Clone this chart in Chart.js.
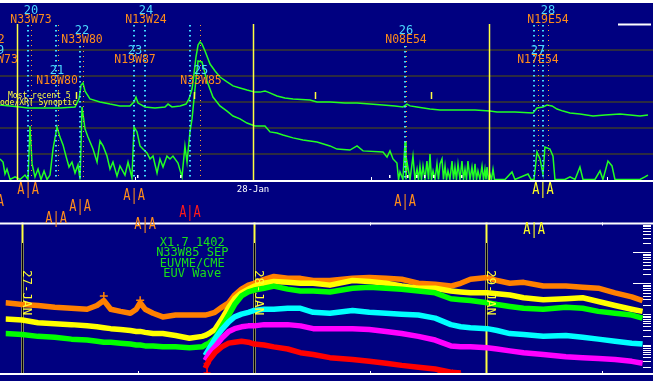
<!DOCTYPE html>
<html>
<head>
<meta charset="utf-8">
<script src="https://cdn.jsdelivr.net/npm/chart.js@4.4.1/dist/chart.umd.min.js"></script>
<style>
  html, body { margin: 0; padding: 0; background: #000080; overflow: hidden; }
  #wrap { position: relative; width: 653px; height: 381px; }
  #protonChart { position: absolute; left: 0; top: 217px; }
  #xrayChart { position: absolute; left: 0; top: 0; z-index: 2; }
</style>
</head>
<body>
<div id="wrap">
  <canvas id="protonChart" width="653" height="164"></canvas>
  <canvas id="xrayChart" width="653" height="240"></canvas>
</div>
<script>
// time axis: hours since 27-Jan 00:00
const HOUR_MIN = -1.73;
const HOUR_MAX = 64.68;
const dayHours = [0, 24, 48];
const dayLabels = ['27-JAN', '28-JAN', '29-JAN'];
const noonHours = [12, 36, 60];

// GOES X-ray flux, [hour, log10(W/m2)]
const xrayLong = [
  [-1.73, -6.12], [-0.71, -6.15], [0.31, -6.19], [1.12, -6.23], [2.34, -6.23], [4.37, -6.23], [5.90, -6.19], [6.31, -5.88], [6.51, -5.35], [6.71, -5.27],
  [6.92, -5.58], [7.42, -5.88], [8.44, -6.00], [9.46, -6.08], [10.47, -6.15], [11.49, -6.15], [11.90, -6.00], [12.10, -5.81], [12.31, -6.04], [13.02, -6.19],
  [14.03, -6.23], [15.05, -6.19], [15.36, -6.08], [15.76, -6.19], [16.58, -6.15], [17.19, -6.08], [17.49, -5.88], [17.80, -5.50], [18.00, -4.92], [18.20, -4.27],
  [18.41, -3.81], [18.61, -3.69], [18.81, -3.77], [19.12, -4.04], [19.63, -4.54], [20.14, -4.81], [20.64, -5.04], [21.36, -5.23], [21.97, -5.38], [22.68, -5.46],
  [23.39, -5.54], [24.20, -5.62], [24.71, -5.62], [25.22, -5.58], [25.53, -5.62], [26.44, -5.77], [27.25, -5.85], [28.07, -5.88], [29.80, -5.92], [30.51, -6.00],
  [31.83, -6.00], [33.36, -6.04], [34.58, -6.04], [35.90, -6.08], [37.22, -6.12], [38.44, -6.15], [39.25, -6.19], [39.66, -6.08], [39.97, -6.15], [40.68, -6.19],
  [42.00, -6.27], [43.02, -6.31], [45.05, -6.31], [46.58, -6.31], [48.10, -6.35], [48.81, -6.38], [50.64, -6.38], [52.47, -6.42], [52.88, -6.23], [53.49, -6.19],
  [53.90, -6.12], [54.41, -6.15], [54.92, -6.27], [55.53, -6.35], [56.24, -6.42], [57.25, -6.46], [58.58, -6.54], [59.80, -6.50], [61.32, -6.46], [62.34, -6.50],
  [63.36, -6.54], [64.17, -6.50]
];

const xrayShort = [
  [-1.73, -8.19], [-1.42, -8.31], [-1.22, -8.77], [-1.02, -8.58], [-0.71, -8.98], [-0.20, -8.88], [0.31, -8.98], [0.81, -8.81], [1.12, -8.98], [1.32, -6.92],
  [1.53, -8.38], [1.83, -8.88], [2.14, -8.58], [2.44, -8.98], [2.75, -8.65], [3.05, -8.98], [3.36, -8.81], [3.66, -7.81], [4.07, -6.96], [4.37, -7.35],
  [4.68, -7.65], [4.98, -8.08], [5.29, -8.50], [5.59, -8.31], [5.90, -8.73], [6.20, -8.42], [6.41, -8.98], [6.61, -6.19], [6.92, -7.04], [7.22, -7.35],
  [7.73, -7.81], [8.14, -8.31], [8.44, -7.50], [8.75, -7.69], [9.15, -8.08], [9.46, -8.58], [9.76, -8.31], [10.17, -8.85], [10.47, -8.46], [10.98, -8.81],
  [11.29, -8.31], [11.69, -8.92], [11.90, -6.96], [12.20, -7.15], [12.51, -7.69], [12.81, -7.81], [13.22, -7.96], [13.53, -8.19], [13.83, -8.08], [14.24, -8.73],
  [14.54, -8.19], [14.85, -8.50], [15.25, -8.08], [15.56, -8.19], [15.86, -8.08], [16.37, -8.35], [16.78, -8.88], [17.08, -7.69], [17.29, -8.31], [17.59, -7.15],
  [17.80, -6.65], [18.10, -5.50], [18.41, -4.42], [18.81, -4.46], [19.32, -5.19], [19.93, -5.81], [20.64, -6.15], [21.36, -6.35], [21.97, -6.54], [22.68, -6.65],
  [23.39, -6.81], [24.20, -6.92], [25.22, -6.92], [25.73, -7.15], [26.44, -7.19], [27.05, -7.27], [28.07, -7.38], [29.08, -7.46], [30.51, -7.54], [31.83, -7.69],
  [32.54, -7.81], [33.86, -7.85], [34.58, -7.69], [35.19, -7.88], [37.22, -7.92], [37.63, -8.12], [37.93, -7.88], [38.24, -8.19], [38.64, -8.35], [38.80, -8.98],
  [38.95, -8.69], [39.25, -8.98], [39.46, -7.54], [39.56, -8.98], [39.66, -8.31], [39.97, -8.98], [40.27, -8.08], [40.47, -8.98], [40.68, -8.58], [40.83, -8.98],
  [40.98, -8.46], [41.13, -8.98], [41.29, -8.46], [41.49, -8.98], [41.69, -8.27], [41.85, -8.98], [42.00, -8.00], [42.15, -8.98], [42.31, -8.65], [42.51, -8.98],
  [42.71, -8.38], [42.86, -8.98], [43.02, -8.38], [43.22, -8.19], [43.37, -8.98], [43.53, -8.46], [43.68, -8.98], [43.83, -8.65], [44.03, -8.98], [44.24, -8.27],
  [44.39, -8.98], [44.54, -8.50], [44.69, -8.98], [44.85, -8.38], [45.05, -8.98], [45.25, -8.27], [45.41, -8.98], [45.56, -8.58], [45.71, -8.98], [45.86, -8.27],
  [46.07, -8.98], [46.27, -8.50], [46.42, -8.98], [46.58, -8.38], [46.73, -8.98], [46.88, -8.65], [47.08, -8.98], [47.29, -8.46], [47.44, -8.98], [47.59, -8.58],
  [47.70, -8.98], [47.80, -8.50], [47.95, -8.98], [48.10, -8.77], [48.25, -8.98], [48.41, -8.58], [48.56, -8.98], [49.63, -8.98], [50.34, -8.69], [50.64, -8.98],
  [51.97, -8.77], [52.27, -8.98], [52.58, -8.98], [52.88, -7.92], [53.19, -8.19], [53.49, -8.77], [53.69, -7.73], [54.20, -7.81], [54.51, -8.08], [54.71, -8.98],
  [55.73, -8.98], [56.24, -8.88], [56.75, -8.98], [57.25, -8.50], [57.56, -8.98], [58.78, -8.98], [59.29, -8.65], [59.59, -8.98], [60.10, -8.27], [60.51, -8.46],
  [60.81, -8.98], [63.36, -8.98], [63.86, -8.88], [64.17, -8.81]
];

const gridDecades = [-4, -5, -6, -7, -8];
const synopticHours = [6.0, 18.0, 30.3, 42.1];
const whiteMarkHours = [12.2, 16.58, 37.83, 39.66, 40.58, 41.39, 42.31, 45.15];

// active regions: label, location, cyan start line, orange peak line, AIA lane
const regionIds = ['18', '19', '20', '21', '22', '23', '24', '25', '26', '27', '28'];
const regionLocs = ['N12W72', 'N13W73', 'N33W73', 'N18W80', 'N33W80', 'N19W87', 'N13W24', 'N33W85', 'N08E54', 'N17E54', 'N19E54'];
const regionLabelHours = [-3.36, -2.03, 1.42, 4.07, 6.61, 12.0, 13.12, 18.71, 39.56, 52.98, 54.0];
const regionRows = [1, 2, 0, 3, 1, 2, 0, 3, 1, 2, 0];
const regionStartHours = [null, -2.44, 1.12, 3.97, 6.41, 11.90, 13.02, 17.59, 39.46, 52.58, 53.49];
const regionPeakHours = [null, null, 1.42, 4.17, 6.71, null, null, 18.61, 39.56, 52.98, 54.0];
const aiaLanes = [null, 2, 0, 5, 3, 1, 6, 4, 2, 7, 0];
const aiaColors = ['', '#ff8c1a', '#ff8c1a', '#ff8c1a', '#ff8c1a', '#ff8c1a', '#ff8c1a', '#ff1a1a', '#ff8c1a', '#ffff22', '#ffff22'];

// GOES proton flux, log10(pfu)
const protonHours = [-1.73, 0, 1.63, 3.36, 5.09, 6.71, 7.73, 8.44, 9.15, 10.17, 11.19, 11.80, 12.20, 12.71, 13.53, 14.54, 15.86, 17.29, 18.61, 18.92,
  19.32, 19.93, 20.64, 21.36, 21.97, 22.68, 23.39, 24.0, 25.02, 26.03, 27.46, 28.78, 30.10, 31.83, 34.17, 35.90, 37.63, 39.25, 40.98, 42.71,
  44.34, 45.36, 46.37, 48.10, 49.12, 50.44, 51.86, 53.90, 56.24, 57.97, 59.59, 61.32, 63.05, 64.17];
const protonOrange = [-0.63, -0.69, -0.72, -0.78, -0.81, -0.84, -0.72, -0.56, -0.84, -0.91, -0.97, -0.84, -0.63, -0.84, -0.97, -1.09, -1.03, -1.03, -1.03, -1.03,
  -1.00, -0.94, -0.78, -0.63, -0.38, -0.19, -0.06, 0, 0.13, 0.22, 0.16, 0.16, 0.09, 0.09, 0.16, 0.19, 0.16, 0.13, 0, -0.03,
  -0.09, 0, 0.13, 0.19, 0.09, 0, 0.03, -0.09, -0.09, -0.13, -0.16, -0.31, -0.44, -0.56];
const protonYellow = [-1.16, -1.19, -1.28, -1.31, -1.34, -1.38, -1.41, -1.44, -1.47, -1.50, -1.53, -1.56, -1.56, -1.59, -1.63, -1.63, -1.69, -1.78, -1.72, -1.69,
  -1.63, -1.50, -1.16, -0.78, -0.50, -0.31, -0.19, -0.09, 0, 0.06, 0.03, 0, 0, -0.06, 0.09, 0.06, 0, -0.09, -0.16, -0.16,
  -0.25, -0.28, -0.31, -0.31, -0.34, -0.38, -0.47, -0.53, -0.50, -0.47, -0.59, -0.72, -0.84, -0.91];
const protonGreen = [-1.63, -1.66, -1.72, -1.75, -1.81, -1.84, -1.88, -1.91, -1.91, -1.94, -1.97, -2.00, -2.00, -2.03, -2.03, -2.06, -2.06, -2.09, -2.06, -2.00,
  -1.94, -1.78, -1.41, -1.03, -0.69, -0.41, -0.28, -0.22, -0.16, -0.09, -0.19, -0.25, -0.25, -0.28, -0.16, -0.13, -0.16, -0.19, -0.25, -0.31,
  -0.50, -0.53, -0.56, -0.63, -0.69, -0.75, -0.81, -0.84, -0.78, -0.81, -0.91, -0.97, -1.03, -1.13];
const protonCyan = [null, null, null, null, null, null, null, null, null, null, null, null, null, null, null, null, null, null, null, -2.34,
  -2.13, -1.81, -1.50, -1.25, -1.09, -1.00, -0.94, -0.88, -0.84, -0.84, -0.81, -0.81, -0.94, -0.97, -0.88, -0.94, -0.97, -1.00, -1.03, -1.13,
  -1.34, -1.41, -1.44, -1.47, -1.53, -1.63, -1.66, -1.72, -1.69, -1.75, -1.81, -1.88, -1.94, -1.97];
const protonMagenta = [null, null, null, null, null, null, null, null, null, null, null, null, null, null, null, null, null, null, null, -2.50,
  -2.28, -2.06, -1.78, -1.56, -1.47, -1.41, -1.38, -1.38, -1.34, -1.34, -1.34, -1.38, -1.47, -1.47, -1.47, -1.50, -1.56, -1.63, -1.72, -1.84,
  -2.03, -2.06, -2.06, -2.09, -2.13, -2.19, -2.25, -2.31, -2.38, -2.41, -2.44, -2.47, -2.53, -2.59];
const protonRed = [null, null, null, null, null, null, null, null, null, null, null, null, null, null, null, null, null, null, null, -2.75,
  -2.50, -2.25, -2.06, -1.94, -1.91, -1.88, -1.91, -1.97, -2.00, -2.06, -2.13, -2.25, -2.31, -2.41, -2.47, -2.53, -2.59, -2.66, -2.72, -2.78,
  -2.88, -2.91, null, null, null, null, null, null, null, null, null, null, null, null];
const orangeMarkHours = [8.44, 12.20];
const orangeMarkLog = [-0.41, -0.55];
const redMarkHours = [19.12, 19.12, 43.32, 43.90, 44.50, 45.10];
const redMarkLog = [-2.60, -2.91, -2.88, -2.90, -2.91, -2.92];
const flareNote = ['X1.7 1402', 'N33W85 SEP', 'EUVME/CME', 'EUV Wave'];

const MONO = '"DejaVu Sans Mono", monospace';
const pairs = (xs, ys) => xs.map((h, i) => ({ x: h, y: ys[i] }));
const points = rows => rows.map(r => ({ x: r[0], y: r[1] }));

function baseOptions(yMin, yMax, padding) {
  return {
    responsive: false,
    animation: false,
    events: [],
    layout: { padding: padding },
    plugins: { legend: { display: false }, tooltip: { enabled: false } },
    elements: { point: { radius: 0 }, line: { tension: 0 } },
    scales: {
      x: { type: 'linear', min: HOUR_MIN, max: HOUR_MAX, display: false },
      y: { type: 'linear', min: yMin, max: yMax, display: false }
    }
  };
}

function vline(ctx, px, y0, y1) {
  ctx.beginPath();
  ctx.moveTo(px, y0);
  ctx.lineTo(px, y1);
  ctx.stroke();
}

const xrayDecor = {
  id: 'xrayDecor',
  beforeDatasetsDraw(chart) {
    const { ctx, chartArea: a, scales: { y } } = chart;
    ctx.save();
    ctx.fillStyle = '#ffffff';
    ctx.fillRect(0, 0, chart.width, 3);
    ctx.strokeStyle = '#3b3a2c';
    ctx.lineWidth = 1.6;
    gridDecades.forEach(d => {
      const py = Math.round(y.getPixelForValue(d));
      ctx.beginPath();
      ctx.moveTo(a.left, py);
      ctx.lineTo(a.right, py);
      ctx.stroke();
    });
    ctx.restore();
  },
  afterDatasetsDraw(chart) {
    const { ctx, chartArea: a, scales: { x, y } } = chart;
    const topY = Math.round(y.getPixelForValue(-3));
    ctx.save();

    // day boundaries
    ctx.strokeStyle = '#ffff40';
    ctx.lineWidth = 1.5;
    dayHours.forEach(h => vline(ctx, Math.round(x.getPixelForValue(h)) + 0.5, topY, a.bottom));

    // region start / peak lines
    regionIds.forEach((id, i) => {
      const y0 = regionRows[i] === 1 ? 46 : 25;
      if (regionStartHours[i] !== null) {
        ctx.strokeStyle = '#40dcff';
        ctx.lineWidth = 2;
        ctx.setLineDash([1.5, 3.5]);
        vline(ctx, Math.round(x.getPixelForValue(regionStartHours[i])), y0, a.bottom);
      }
      if (regionPeakHours[i] !== null) {
        ctx.strokeStyle = '#ff9a2a';
        ctx.lineWidth = 1;
        ctx.setLineDash([1, 4]);
        vline(ctx, Math.round(x.getPixelForValue(regionPeakHours[i])) + 0.5, y0, a.bottom);
      }
    });
    ctx.setLineDash([]);

    // region labels
    ctx.textAlign = 'center';
    ctx.textBaseline = 'middle';
    regionIds.forEach((id, i) => {
      const cx = x.getPixelForValue(regionLabelHours[i]);
      const row = regionRows[i];
      ctx.font = '12px ' + MONO;
      ctx.fillStyle = '#4ad8ff';
      ctx.fillText(id, cx, 10.5 + row * 20.2);
      ctx.font = '11.5px ' + MONO;
      ctx.fillStyle = '#ff8c1a';
      ctx.fillText(regionLocs[i], cx, 20 + row * 20.2);
    });

    // synoptic markers
    ctx.strokeStyle = '#ffff40';
    ctx.lineWidth = 1.5;
    synopticHours.forEach(h => vline(ctx, Math.round(x.getPixelForValue(h)) + 0.5, 92, 99));
    ctx.font = '8px ' + MONO;
    ctx.fillStyle = '#ffff40';
    ctx.textAlign = 'left';
    ctx.fillText('Most recent 5', 8, 95.5);
    ctx.textAlign = 'right';
    ctx.fillText('Hinode/XRT Synoptic', 77, 102.5);

    // white marks near the floor
    ctx.fillStyle = '#ffffff';
    whiteMarkHours.forEach(h => ctx.fillRect(Math.round(x.getPixelForValue(h)), 175, 1.5, 3));

    // axis lines and ticks
    ctx.strokeStyle = '#ffffff';
    ctx.lineWidth = 2;
    ctx.beginPath();
    ctx.moveTo(0, 181);
    ctx.lineTo(chart.width, 181);
    ctx.stroke();
    ctx.beginPath();
    ctx.moveTo(618, topY + 0.5);
    ctx.lineTo(651, topY + 0.5);
    ctx.stroke();
    ctx.lineWidth = 1;
    noonHours.forEach(h => vline(ctx, Math.round(x.getPixelForValue(h)) + 0.5, 177, 180));

    // day label
    ctx.font = '9px ' + MONO;
    ctx.fillStyle = '#ffffff';
    ctx.textAlign = 'center';
    ctx.textBaseline = 'middle';
    ctx.fillText('28-Jan', x.getPixelForValue(24), 190);

    // AIA markers
    regionIds.forEach((id, i) => {
      if (aiaLanes[i] === null) return;
      const cx = x.getPixelForValue(regionStartHours[i]);
      const bottom = 183 + aiaLanes[i] * 5.75 + 11;
      ctx.save();
      ctx.translate(cx, bottom);
      ctx.scale(1, 1.25);
      ctx.font = '12px ' + MONO;
      ctx.textBaseline = 'alphabetic';
      ctx.fillStyle = aiaColors[i];
      ctx.fillText('A|A', 0, 0);
      ctx.restore();
    });
    ctx.restore();
  }
};

const protonDecor = {
  id: 'protonDecor',
  beforeDatasetsDraw(chart) {
    const { ctx, chartArea: a, scales: { x } } = chart;
    ctx.save();
    dayHours.forEach((h, i) => {
      const px = Math.round(x.getPixelForValue(h));
      ctx.strokeStyle = '#ffff40';
      ctx.lineWidth = 2;
      vline(ctx, px + 0.5, a.top, a.bottom);
      ctx.strokeStyle = '#000000';
      ctx.lineWidth = 1;
      vline(ctx, px + 0.5, 26, i === 2 ? 113 : a.bottom);
    });
    ctx.restore();
  },
  afterDatasetsDraw(chart) {
    const { ctx, chartArea: a, scales: { x, y } } = chart;
    ctx.save();

    // border lines
    ctx.strokeStyle = '#ffffff';
    ctx.lineWidth = 2;
    [a.top + 1, a.bottom].forEach(py => {
      ctx.beginPath();
      ctx.moveTo(0, py);
      ctx.lineTo(chart.width, py);
      ctx.stroke();
    });
    ctx.lineWidth = 1;
    noonHours.forEach(h => {
      const px = Math.round(x.getPixelForValue(h)) + 0.5;
      vline(ctx, px, a.top, a.top + 3);
      vline(ctx, px, a.bottom - 3, a.bottom);
    });

    // log ticks on the right edge
    for (let d = -3; d <= 1; d++) {
      for (let m = 1; m <= 9; m++) {
        const v = d + Math.log10(m);
        if (v < y.min || v > y.max) continue;
        const py = Math.round(y.getPixelForValue(v)) + 0.5;
        const len = (m === 1 && d >= 0) ? 18 : 8;
        ctx.beginPath();
        ctx.moveTo(651 - len, py);
        ctx.lineTo(651, py);
        ctx.stroke();
      }
    }

    // rotated day labels
    ctx.font = '12.5px ' + MONO;
    ctx.fillStyle = '#ffff30';
    ctx.textAlign = 'left';
    ctx.textBaseline = 'alphabetic';
    dayHours.forEach((h, i) => {
      ctx.save();
      ctx.translate(Math.round(x.getPixelForValue(h)) + 1, 53);
      ctx.rotate(Math.PI / 2);
      ctx.fillText(dayLabels[i], 0, 0);
      ctx.restore();
    });

    // flare annotation
    ctx.font = '12px ' + MONO;
    ctx.fillStyle = '#18e018';
    ctx.textAlign = 'center';
    ctx.textBaseline = 'middle';
    const fx = x.getPixelForValue(regionStartHours[7]);
    flareNote.forEach((line, i) => ctx.fillText(line, fx, 25.5 + i * 10.5));
    ctx.restore();
  }
};

new Chart(document.getElementById('xrayChart'), {
  type: 'line',
  data: {
    datasets: [
      { data: points(xrayShort), borderColor: '#22ff22', borderWidth: 1.5, clip: 0 },
      { data: points(xrayLong), borderColor: '#22ff22', borderWidth: 1.5, clip: 0 }
    ]
  },
  options: baseOptions(-9, -9 + 177 / 26, { top: 3, bottom: 60, left: 0, right: 0 }),
  plugins: [xrayDecor]
});

const protonLine = (vals, color) => ({
  data: pairs(protonHours, vals), borderColor: color, borderWidth: 5.5,
  borderCapStyle: 'butt', borderJoinStyle: 'round', spanGaps: false
});

new Chart(document.getElementById('protonChart'), {
  type: 'line',
  data: {
    datasets: [
      protonLine(protonRed, '#ff0000'),
      protonLine(protonMagenta, '#ff00ff'),
      protonLine(protonCyan, '#00ffff'),
      protonLine(protonGreen, '#00ff00'),
      protonLine(protonYellow, '#ffff00'),
      protonLine(protonOrange, '#ff8000'),
      { data: [{ x: 19.12, y: -2.25 }, { x: 19.12, y: -2.94 }], borderColor: '#ff0000', borderWidth: 1.5 },
      { data: pairs(orangeMarkHours, orangeMarkLog), showLine: false, pointStyle: 'cross', pointRadius: 4,
        borderColor: '#ff8000', pointBorderWidth: 1.5 },
      { data: pairs(redMarkHours, redMarkLog), showLine: false, pointStyle: 'cross', pointRadius: 3.5,
        borderColor: '#ff0000', pointBorderWidth: 1.5 }
    ]
  },
  options: baseOptions(-2.94, 1.97, { top: 0, bottom: 7, left: 0, right: 0 }),
  plugins: [protonDecor]
});
</script>
</body>
</html>
